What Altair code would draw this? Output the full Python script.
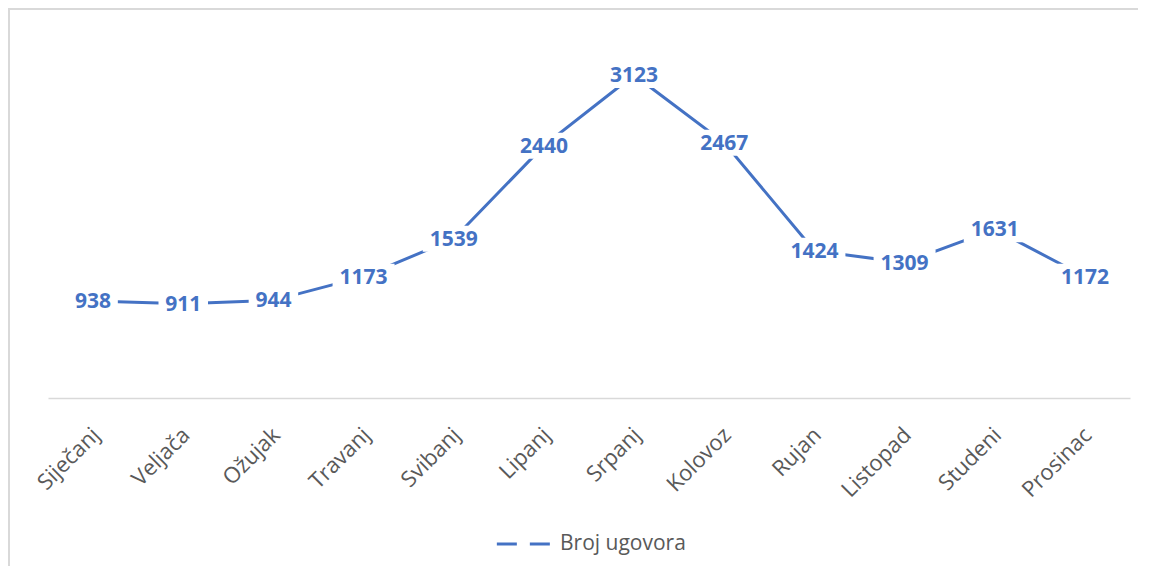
import altair as alt
import pandas as pd

months = ["Siječanj", "Veljača", "Ožujak", "Travanj", "Svibanj", "Lipanj",
          "Srpanj", "Kolovoz", "Rujan", "Listopad", "Studeni", "Prosinac"]
values = [938, 911, 944, 1173, 1539, 2440, 3123, 2467, 1424, 1309, 1631, 1172]
series = "Broj ugovora"

df = pd.DataFrame({"month": months, "value": values, "series": [series] * len(months)})

BLUE = "#4472C4"
W, H = 1082, 362

xenc = alt.X("month:N", sort=months,
             scale=alt.Scale(type="band", paddingInner=0, paddingOuter=0),
             axis=alt.Axis(title=None, labelAngle=-45, labelFontSize=22,
                           labelFont="Open Sans", labelColor="#595959",
                           domainColor="#D9D9D9", domainWidth=1.5,
                           ticks=False, grid=False, labelPadding=26, labelOffset=-4))
yenc = alt.Y("value:Q", scale=alt.Scale(domain=[0, 3500]), axis=None)

base = alt.Chart(df)

line = base.mark_line(strokeWidth=3).encode(
    x=xenc, y=yenc,
    color=alt.Color("series:N", scale=alt.Scale(range=[BLUE]),
                    legend=alt.Legend(title=None, orient="none", legendX=447, legendY=477,
                                      symbolType="stroke", symbolSize=3400,
                                      symbolStrokeWidth=3, symbolDash=[20, 13],
                                      labelFontSize=21, labelFont="Open Sans",
                                      labelColor="#595959", labelOffset=3)),
)

mask = base.transform_calculate(
    w="length(toString(datum.value)) * 12.5 + 12"
).mark_bar(color="white", yOffset=-13, y2Offset=13).encode(
    x=alt.X("month:N", sort=months), y=yenc, y2=alt.Y2("value:Q"),
    size=alt.Size("w:Q", scale=None, legend=None),
)

labels = base.mark_text(fontSize=21, fontWeight="bold", font="Open Sans",
                        color=BLUE, baseline="middle", align="center", dy=1).encode(
    x=alt.X("month:N", sort=months), y=yenc, text="value:Q",
)

border_top = alt.Chart(df).mark_rule(color="#D9D9D9", strokeWidth=2).encode(
    x=alt.value(-40), x2=alt.value(W + 8), y=alt.value(-27))
border_left = alt.Chart(df).mark_rule(color="#D9D9D9", strokeWidth=2).encode(
    x=alt.value(-39), y=alt.value(-28), y2=alt.value(H + 168))

chart = alt.layer(border_top, border_left, line, mask, labels).properties(
    width=W, height=H,
    autosize=alt.AutoSizeParams(type="none"),
    padding={"left": 40, "top": 28, "right": 13, "bottom": 168},
).configure_view(stroke=None)

chart.save("out.html", embed_options={"renderer": "svg", "actions": False})
